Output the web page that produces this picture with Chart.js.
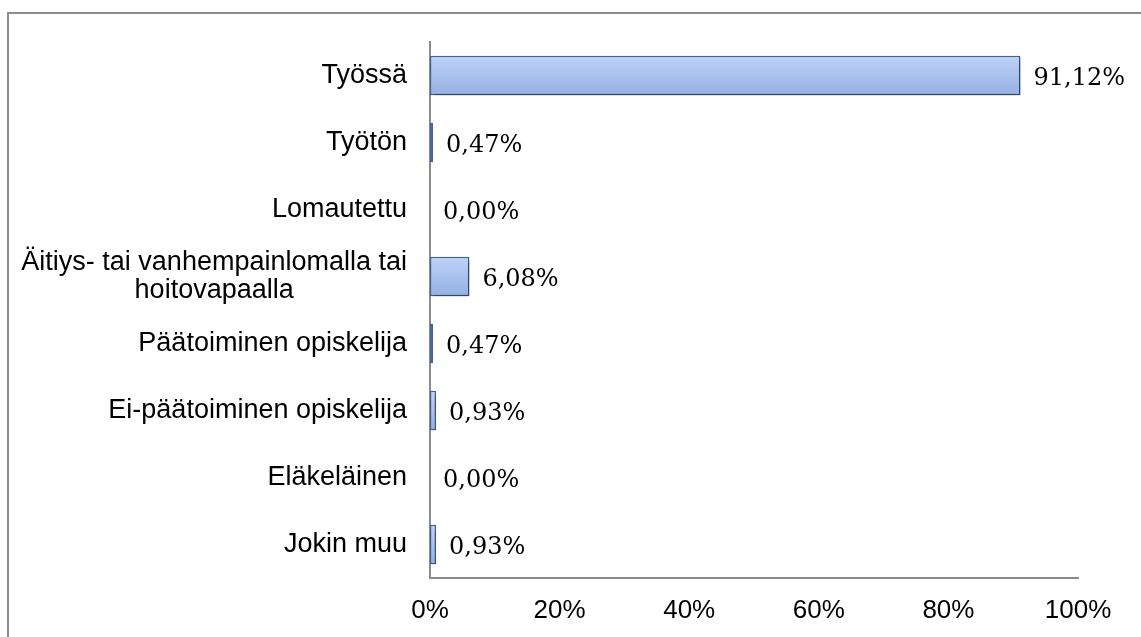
<!DOCTYPE html>
<html>
<head>
<meta charset="utf-8">
<script src="https://cdn.jsdelivr.net/npm/chart.js@4"></script>
<style>
  html, body { margin: 0; padding: 0; background: #fff; overflow: hidden; }
  #frame {
    position: absolute; left: 7px; top: 12px; width: 1200px; height: 700px;
    border-left: 2px solid #8c8c8c; border-top: 2px solid #8c8c8c;
  }
  #wrap { position: absolute; left: 0; top: 0; width: 1141px; height: 637px; }
</style>
</head>
<body>
<div id="frame"></div>
<div id="wrap"><canvas id="chart"></canvas></div>
<script>
const categories = [
  "Työssä",
  "Työtön",
  "Lomautettu",
  ["Äitiys- tai vanhempainlomalla tai", "hoitovapaalla"],
  "Päätoiminen opiskelija",
  "Ei-päätoiminen opiskelija",
  "Eläkeläinen",
  "Jokin muu",
];
const shares = [91.12, 0.47, 0.0, 6.08, 0.47, 0.93, 0.0, 0.93];
const xTicks = [0, 20, 40, 60, 80, 100];

const AXIS_GREY = "#8c8c8c";
const SANS = "'Liberation Sans', Arial, sans-serif";
const SERIF = "'DejaVu Serif', Cambria, serif";

function fmtPct(v) {
  return v.toFixed(2).replace(".", ",") + "%";
}

// gradient fill + soft shadow on the bars
const barStyle = {
  id: "barStyle",
  beforeDatasetDraw(chart) {
    const ctx = chart.ctx;
    chart.getDatasetMeta(0).data.forEach((bar) => {
      const top = bar.y - bar.height / 2;
      const g = ctx.createLinearGradient(0, top, 0, top + bar.height);
      g.addColorStop(0, "#bfd2f8");
      g.addColorStop(1, "#93b1e3");
      bar.options.backgroundColor = g;
    });
    ctx.save();
    ctx.shadowColor = "rgba(0,0,0,0.35)";
    ctx.shadowBlur = 4;
    ctx.shadowOffsetX = 2;
    ctx.shadowOffsetY = 3;
  },
  afterDatasetDraw(chart) {
    chart.ctx.restore();
  },
};

// value labels right of each bar
const valueLabels = {
  id: "valueLabels",
  afterDatasetsDraw(chart) {
    const ctx = chart.ctx;
    ctx.save();
    ctx.font = "24px " + SERIF;
    ctx.fillStyle = "#000";
    ctx.textAlign = "left";
    ctx.textBaseline = "middle";
    chart.getDatasetMeta(0).data.forEach((bar, i) => {
      ctx.fillText(fmtPct(shares[i]), bar.x + 13, bar.y + 3);
    });
    ctx.restore();
  },
};

// category labels: right aligned, multi-line ones centred as a block
const catLabels = {
  id: "catLabels",
  afterDraw(chart) {
    const ctx = chart.ctx;
    const y = chart.scales.y;
    const right = y.right - 23;
    const lh = 28;
    ctx.save();
    ctx.font = "27px " + SANS;
    ctx.fillStyle = "#000";
    ctx.textBaseline = "middle";
    categories.forEach((lab, i) => {
      const py = y.getPixelForValue(i);
      if (Array.isArray(lab)) {
        const widest = Math.max(...lab.map((l) => ctx.measureText(l).width));
        const cx = right - widest / 2;
        ctx.textAlign = "center";
        lab.forEach((l, k) => {
          ctx.fillText(l, cx, py + (k - (lab.length - 1) / 2) * lh);
        });
      } else {
        ctx.textAlign = "right";
        ctx.fillText(lab, right, py);
      }
    });
    ctx.restore();
  },
};

new Chart(document.getElementById("chart"), {
  type: "bar",
  data: {
    labels: categories,
    datasets: [
      {
        data: shares,
        borderColor: "#3f6398",
        borderWidth: (c) => (c.raw === 0 ? 0 : 1.5),
        borderSkipped: false,
        categoryPercentage: 0.59,
        barPercentage: 1,
      },
    ],
  },
  options: {
    indexAxis: "y",
    responsive: true,
    maintainAspectRatio: false,
    animation: false,
    layout: { padding: { top: 42, right: 63, left: 0, bottom: 0 } },
    plugins: { legend: { display: false }, tooltip: { enabled: false } },
    scales: {
      x: {
        min: xTicks[0],
        max: xTicks[xTicks.length - 1],
        afterBuildTicks: (s) => {
          s.ticks = xTicks.map((v) => ({ value: v }));
        },
        afterFit: (s) => {
          s.height = 59;
        },
        grid: { display: false, drawTicks: false },
        border: { display: true, color: AXIS_GREY, width: 2 },
        ticks: {
          padding: 17,
          color: "#000",
          font: { family: SANS, size: 26 },
          callback: (v) => v + "%",
        },
      },
      y: {
        afterFit: (s) => {
          s.width = 430;
        },
        grid: { display: false, drawTicks: false },
        border: { display: true, color: AXIS_GREY, width: 2 },
        ticks: { display: false },
      },
    },
  },
  plugins: [barStyle, valueLabels, catLabels],
});
</script>
</body>
</html>
